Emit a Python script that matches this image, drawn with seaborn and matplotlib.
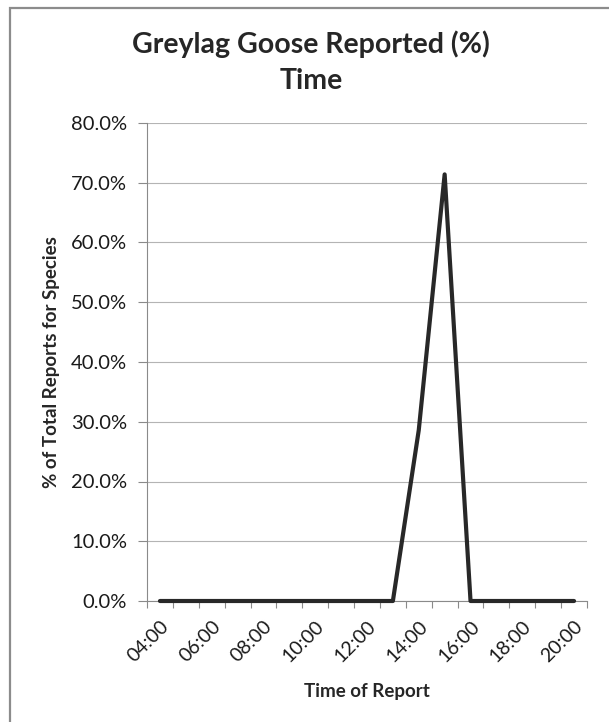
import numpy as np
import pandas as pd
import seaborn as sns
import matplotlib
matplotlib.use("Agg")
import matplotlib.pyplot as plt
import matplotlib.patches as mpatches
from matplotlib.ticker import FuncFormatter

hours = ["04:00", "05:00", "06:00", "07:00", "08:00", "09:00", "10:00", "11:00",
         "12:00", "13:00", "14:00", "15:00", "16:00", "17:00", "18:00", "19:00",
         "20:00"]
pct_reports = [0.0, 0.0, 0.0, 0.0, 0.0, 0.0, 0.0, 0.0,
               0.0, 0.0, 28.6, 71.4, 0.0, 0.0, 0.0, 0.0,
               0.0]
y_ticks = [0, 10, 20, 30, 40, 50, 60, 70, 80]

df = pd.DataFrame({"hour": hours, "pct": pct_reports})

sns.set_style("white")
plt.rcParams['font.family'] = ['Lato', 'DejaVu Sans']

W, H = 609, 722
fig = plt.figure(figsize=(W / 100, H / 100), dpi=100)
ax = fig.add_axes([147 / W, 121 / H, 440 / W, 478 / H])

sns.lineplot(data=df, x="hour", y="pct", ax=ax, color="#282828",
             linewidth=3.0, sort=False, clip_on=False, zorder=5)

ax.set_ylim(0, 80)
ax.set_yticks(y_ticks)
ax.yaxis.set_major_formatter(FuncFormatter(lambda v, p: f"{v:.1f}%"))
ax.grid(axis="y", color="#b4b4b4", linewidth=0.8)
ax.set_axisbelow(True)

ax.set_xlim(-0.5, len(hours) - 0.5)
ax.set_xticks(range(0, len(hours), 2))
ax.set_xticklabels(hours[::2], rotation=45, ha="right", va="top",
                   rotation_mode="anchor")
ax.set_xticks(np.arange(-0.5, len(hours), 1), minor=True)

for s in ["top", "right"]:
    ax.spines[s].set_visible(False)
for s in ["left", "bottom"]:
    ax.spines[s].set_color("#8a8a8a")
    ax.spines[s].set_linewidth(0.8)

ax.tick_params(axis="y", length=6.5, width=0.8, color="#8a8a8a", pad=8,
               labelsize=14.5, labelcolor="#1a1a1a", left=True)
ax.tick_params(axis="x", which="major", length=0, pad=12,
               labelsize=14, labelcolor="#1a1a1a")
ax.tick_params(axis="x", which="minor", length=5, width=0.8,
               color="#8a8a8a", bottom=True)

ax.set_ylabel("% of Total Reports for Species", fontsize=13.5,
              fontweight="bold", va="center")
ax.yaxis.set_label_coords((52 - 147) / 440, 0.5)
ax.set_xlabel("Time of Report", fontsize=13.5, fontweight="bold", va="center")
ax.xaxis.set_label_coords(0.5, -(689 - 599) / 478)

fig.text(311 / W, 1 - 53 / H, "Greylag Goose Reported (%)", ha="center",
         va="baseline", fontsize=20.5, fontweight="bold")
fig.text(311 / W, 1 - 89 / H, "Time", ha="center", va="baseline",
         fontsize=20.5, fontweight="bold")

# chart-area border (only left/top edges fall inside the image)
fig.patches.append(mpatches.Rectangle((10 / W, -0.1), 1.2, 1 - 8 / H + 0.1,
                                      transform=fig.transFigure, fill=False,
                                      edgecolor="#8c8c8c", linewidth=1.6))

fig.savefig("out.png", dpi=100)
